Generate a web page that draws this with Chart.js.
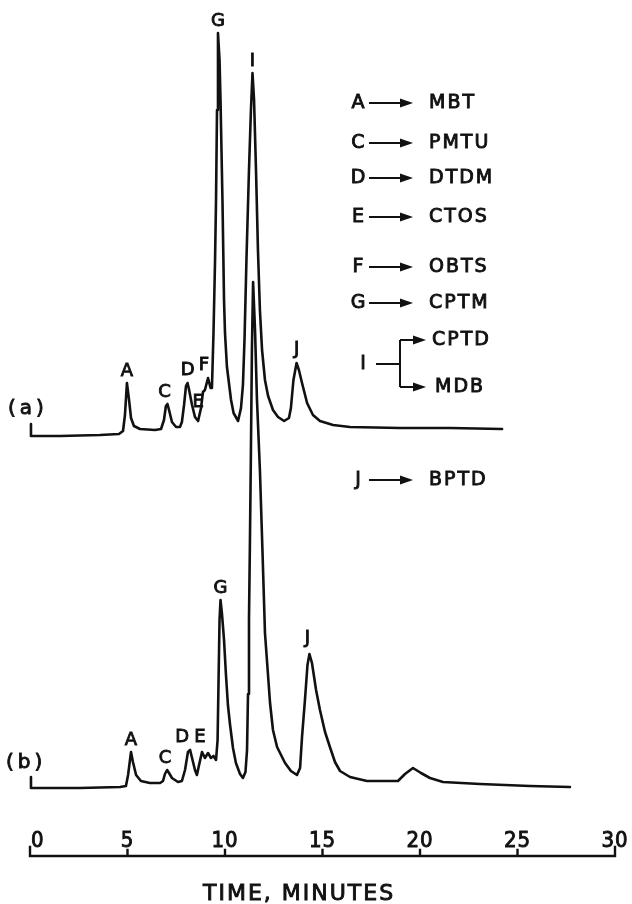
<!DOCTYPE html>
<html>
<head>
<meta charset="utf-8">
<script src="https://cdn.jsdelivr.net/npm/chart.js@4.4.1/dist/chart.umd.min.js"></script>
<style>
  html, body { margin: 0; padding: 0; background: #fff; }
  canvas { display: block; }
</style>
</head>
<body>
<canvas id="chromatogram" width="632" height="904"></canvas>
<script>
// Trace (a): retention time (minutes) and detector response (chart units)
const timeA = [0.05, 0.05, 1.54, 3.59, 4.56, 4.77, 4.87, 4.97, 5.08, 5.18, 5.33, 5.64, 6.41, 6.72, 6.87, 6.97,
  7.05, 7.13, 7.28, 7.49, 7.69, 7.79, 7.90, 8.00, 8.08, 8.15, 8.31, 8.46, 8.62, 8.77, 8.87, 8.97,
  9.13, 9.26, 9.33, 9.41, 9.49, 9.54, 9.59, 9.64, 9.72, 9.77, 9.87, 9.95, 10.00, 10.10, 10.31, 10.44,
  10.67, 10.82, 10.92, 11.00, 11.10, 11.23, 11.33, 11.41, 11.49, 11.59, 11.69, 11.79, 11.90, 12.05,
  12.21, 12.46, 12.72, 13.03, 13.28, 13.38, 13.51, 13.67, 13.79, 13.95, 14.21, 14.51, 14.87, 15.54,
  16.41, 18.97, 21.54, 24.21];
const responseA = [43.2, 42.0, 42.0, 42.1, 42.2, 42.5, 44.1, 47.3, 45.6, 43.8, 43.0, 42.7, 42.6, 42.7, 43.6, 45.0,
  45.2, 44.6, 43.4, 42.9, 42.9, 43.4, 45.1, 47.0, 47.3, 46.7, 45.1, 43.9, 43.5, 44.8, 46.4, 46.6,
  47.8, 46.8, 46.8, 52.3, 59.6, 65.6, 74.6, 82.3, 79.6, 75.6, 65.6, 55.6, 52.3, 48.9, 45.6, 44.3,
  43.5, 44.8, 47.1, 51.6, 59.6, 68.6, 74.6, 78.3, 75.6, 68.6, 60.6, 54.6, 50.6, 47.6,
  46.0, 44.6, 43.9, 43.5, 43.8, 44.8, 47.6, 49.3, 48.6, 47.3, 45.3, 44.1, 43.5, 43.1,
  42.9, 42.8, 42.8, 42.7];

// Trace (b)
const timeB = [0.05, 0.05, 2.56, 4.62, 4.92, 5.03, 5.18, 5.28, 5.44, 5.69, 6.15, 6.67, 6.82, 6.92, 7.03, 7.13,
  7.28, 7.59, 7.79, 7.95, 8.10, 8.21, 8.31, 8.46, 8.56, 8.67, 8.82, 8.97, 9.13, 9.28, 9.41, 9.54,
  9.62, 9.67, 9.72, 9.77, 9.85, 9.95, 10.05, 10.15, 10.26, 10.41, 10.56, 10.77, 10.92, 11.05, 11.13, 11.18,
  11.23, 11.28, 11.33, 11.38, 11.44, 11.54, 11.64, 11.79, 11.92, 12.05, 12.31, 12.46, 12.67, 13.08,
  13.38, 13.69, 13.85, 13.95, 14.10, 14.23, 14.33, 14.46, 14.67, 14.87, 15.13, 15.38, 15.64, 15.90,
  16.41, 17.28, 18.87, 19.23, 19.64, 20.05, 20.51, 21.18, 23.08, 25.64, 27.69];
const responseB = [7.9, 6.8, 6.8, 6.9, 7.0, 8.1, 10.4, 9.4, 8.1, 7.5, 7.3, 7.3, 7.5, 8.2, 8.6, 8.3,
  7.8, 7.4, 7.5, 8.6, 10.4, 10.6, 9.8, 8.6, 8.1, 9.1, 10.4, 9.8, 10.3, 9.8, 10.0, 9.6,
  11.6, 17.6, 23.6, 25.6, 24.1, 21.6, 18.1, 15.1, 13.1, 10.8, 9.3, 8.2, 7.8, 8.4, 10.6, 16.2,
  23.6, 31.6, 40.6, 50.6, 57.4, 52.6, 45.6, 38.6, 30.6, 22.3, 15.3, 12.6, 10.9, 9.3,
  8.5, 8.1, 8.8, 11.9, 15.6, 19.1, 20.2, 19.3, 16.6, 14.6, 12.4, 10.9, 9.4, 8.5,
  7.9, 7.5, 7.5, 8.2, 8.8, 8.3, 7.8, 7.4, 7.2, 7.0, 6.9];

// Peak letters and their retention times
const peakNamesA = ['A', 'C', 'D', 'E', 'F', 'G', 'I', 'J'];
const peakTimesA = [4.97, 7.05, 8.08, 8.62, 9.13, 9.64, 11.41, 13.67];
const peakNamesB = ['A', 'C', 'D', 'E', 'G', 'J'];
const peakTimesB = [5.18, 7.03, 8.21, 8.82, 9.77, 14.33];

// Peak identification key
const keyCodes = ['A', 'C', 'D', 'E', 'F', 'G', 'I', 'J'];
const keyCompounds = ['MBT', 'PMTU', 'DTDM', 'CTOS', 'OBTS', 'CPTM', ['CPTD', 'MDB'], 'BPTD'];

// Time axis
const timeTicks = [0, 5, 10, 15, 20, 25, 30];
const tickLabels = ['0', '5', '10', '15', '20', '25', '30'];
const axisTitle = 'TIME, MINUTES';
const traceNames = ['(a)', '(b)'];

const FONT = '"DejaVu Sans", sans-serif';
const NARROW = '"DejaVu Sans Condensed", "DejaVu Sans", sans-serif';
const INK = '#111';

function toPoints(times, values) {
  return times.map((t, i) => ({ x: t, y: values[i] }));
}

function valueNear(times, values, t) {
  let best = 0;
  for (let i = 1; i < times.length; i++) {
    if (Math.abs(times[i] - t) < Math.abs(times[best] - t)) best = i;
  }
  return values[best];
}

function setText(ctx, size, spacing, family) {
  ctx.font = size + 'px ' + (family || FONT);
  ctx.fillStyle = INK;
  ctx.strokeStyle = INK;
  if ('letterSpacing' in ctx) ctx.letterSpacing = spacing + 'px';
}

// lettering-guide text: regular face with a thin outline to thicken strokes
function letter(ctx, text, x, y) {
  const lw = ctx.lineWidth;
  ctx.lineWidth = 0.9;
  ctx.fillText(text, x, y);
  ctx.strokeText(text, x, y);
  ctx.lineWidth = lw;
}

function drawArrow(ctx, x1, y, x2) {
  ctx.beginPath();
  ctx.moveTo(x1, y);
  ctx.lineTo(x2 - 8, y);
  ctx.stroke();
  ctx.beginPath();
  ctx.moveTo(x2, y);
  ctx.lineTo(x2 - 13, y - 4.5);
  ctx.lineTo(x2 - 13, y + 4.5);
  ctx.closePath();
  ctx.fill();
}

// small nudges so the letters sit where the draughtsman put them
const labelNudge = {
  'a-C': [-3, 0], 'a-E': [0, -7], 'a-F': [-4, -1], 'a-D': [0, -1], 'a-J': [0, -2],
  'b-C': [-2, 0], 'b-D': [-8, -1], 'b-E': [-2, -3], 'b-J': [-2, -4]
};

const peakLabelPlugin = {
  id: 'peakLabels',
  afterDatasetsDraw(chart) {
    const { ctx, scales: { x, y } } = chart;
    ctx.save();
    setText(ctx, 18, 0);
    ctx.textAlign = 'center';
    ctx.textBaseline = 'middle';
    const groups = [['a', peakNamesA, peakTimesA, timeA, responseA], ['b', peakNamesB, peakTimesB, timeB, responseB]];
    groups.forEach(([tag, names, times, tData, vData]) => {
      names.forEach((name, i) => {
        const n = labelNudge[tag + '-' + name] || [0, 0];
        const px = x.getPixelForValue(times[i]) + n[0];
        const py = y.getPixelForValue(valueNear(tData, vData, times[i])) - 12 + n[1];
        letter(ctx, name, px, py);
      });
    });
    ctx.restore();
  }
};

const timeAxisPlugin = {
  id: 'timeAxis',
  afterDraw(chart) {
    const { ctx, scales: { x, y } } = chart;
    const base = y.getPixelForValue(0);
    ctx.save();
    ctx.strokeStyle = INK;
    ctx.lineWidth = 2.4;
    ctx.lineCap = 'square';
    ctx.beginPath();
    ctx.moveTo(x.getPixelForValue(timeTicks[0]), base);
    ctx.lineTo(x.getPixelForValue(timeTicks[timeTicks.length - 1]), base);
    timeTicks.forEach((t, i) => {
      const px = x.getPixelForValue(t);
      const len = (i === 0 || i === timeTicks.length - 1) ? 9 : 6;
      ctx.moveTo(px, base);
      ctx.lineTo(px, base - len);
    });
    ctx.stroke();

    setText(ctx, 22, 1, NARROW);
    ctx.textBaseline = 'alphabetic';
    tickLabels.forEach((lab, i) => {
      ctx.textAlign = i === 0 ? 'left' : 'center';
      letter(ctx, lab, x.getPixelForValue(timeTicks[i]) + (i === 0 ? 1 : 0), base - 9);
    });

    setText(ctx, 22, 2);
    ctx.textAlign = 'center';
    letter(ctx, axisTitle, x.getPixelForValue(13.8), base + 44);

    // trace tags
    setText(ctx, 20, 4);
    ctx.textAlign = 'left';
    ctx.textBaseline = 'middle';
    letter(ctx, traceNames[0], 8, y.getPixelForValue(responseA[0]) - 15);
    letter(ctx, traceNames[1], 6, y.getPixelForValue(responseB[0]) - 14);
    ctx.restore();
  }
};

const keyPlugin = {
  id: 'compoundKey',
  afterDraw(chart) {
    const { ctx } = chart;
    const rowY = [103, 143, 178, 217, 267, 303, 364, 480];
    ctx.save();
    ctx.strokeStyle = INK;
    ctx.fillStyle = INK;
    ctx.lineWidth = 2;
    ctx.textBaseline = 'middle';
    keyCodes.forEach((code, i) => {
      const yy = rowY[i];
      const names = keyCompounds[i];
      setText(ctx, 19, 0);
      ctx.textAlign = 'center';
      if (Array.isArray(names)) {
        letter(ctx, code, 363, yy);
        ctx.beginPath();
        ctx.moveTo(376, yy);
        ctx.lineTo(400, yy);
        ctx.moveTo(400, yy - 24);
        ctx.lineTo(400, yy + 23);
        ctx.stroke();
        drawArrow(ctx, 400, yy - 24, 426);
        drawArrow(ctx, 400, yy + 23, 426);
        setText(ctx, 19, 2);
        ctx.textAlign = 'left';
        letter(ctx, names[0], 432, yy - 24);
        letter(ctx, names[1], 435, yy + 23);
      } else {
        letter(ctx, code, 358, yy);
        drawArrow(ctx, 369, yy, 413);
        setText(ctx, 19, 2);
        ctx.textAlign = 'left';
        letter(ctx, names, 429, yy);
      }
    });
    ctx.restore();
  }
};

const traceStyle = {
  borderColor: INK,
  borderWidth: 2.6,
  borderJoinStyle: 'round',
  borderCapStyle: 'round',
  pointRadius: 0,
  tension: 0,
  fill: false,
  clip: false
};

new Chart(document.getElementById('chromatogram'), {
  type: 'line',
  data: {
    datasets: [
      Object.assign({ label: 'Trace (a)', data: toPoints(timeA, responseA) }, traceStyle),
      Object.assign({ label: 'Trace (b)', data: toPoints(timeB, responseB) }, traceStyle)
    ]
  },
  options: {
    responsive: false,
    animation: false,
    layout: { padding: { left: 30, right: 17, top: 16, bottom: 48 } },
    scales: {
      x: { type: 'linear', min: 0, max: 30, display: false },
      y: { type: 'linear', min: 0, max: 84, display: false }
    },
    plugins: {
      legend: { display: false },
      tooltip: { enabled: false }
    }
  },
  plugins: [peakLabelPlugin, timeAxisPlugin, keyPlugin]
});
</script>
</body>
</html>
